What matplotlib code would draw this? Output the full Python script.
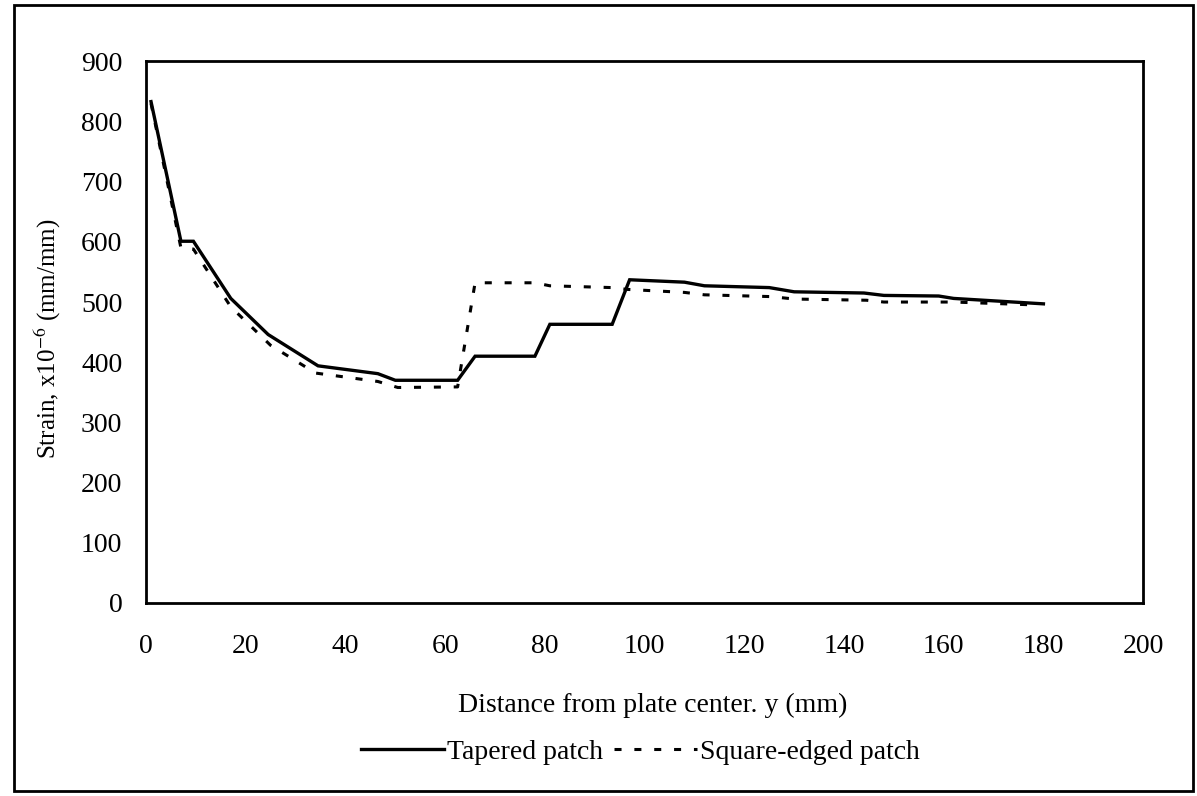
import matplotlib
matplotlib.use('Agg')
import matplotlib.pyplot as plt
from matplotlib.patches import Rectangle

# data
TAPERED_X = [1, 7, 9.5, 17, 24.5, 34.5, 46.5, 50, 62.5, 66, 78, 81, 93.5, 97, 108, 112, 125, 130, 144, 148, 159, 162, 180]
TAPERED_Y = [833, 601, 601, 506, 446, 394, 381, 370, 370, 410, 410, 463, 463, 537, 533, 527, 524, 517, 515, 511, 510, 506, 497]

SQUARE_X = [1, 7, 9.5, 17, 25, 34, 46.5, 50.5, 62.5, 66, 78, 81, 93.5, 96.5, 108, 112, 125.5, 130, 144.5, 148, 162, 179]
SQUARE_Y = [830, 590, 588, 492, 428, 382, 368, 358, 359, 532, 532, 527, 524, 521, 516, 512, 509, 505, 503, 500, 500, 495]

XTICKS = [0, 20, 40, 60, 80, 100, 120, 140, 160, 180, 200]
YTICKS = [0, 100, 200, 300, 400, 500, 600, 700, 800, 900]

plt.rcParams['font.family'] = ['Liberation Serif', 'DejaVu Serif']
plt.rcParams['mathtext.fontset'] = 'stix'

fig = plt.figure(figsize=(11.97, 7.96), dpi=100)
ax = fig.add_axes([0.122, 0.2425, 0.833, 0.6805])

l1, = ax.plot(TAPERED_X, TAPERED_Y, color='black', lw=2.4, solid_joinstyle='miter')
l2, = ax.plot(SQUARE_X, SQUARE_Y, color='black', lw=2.2, linestyle=(0, (2.3, 4.2)))

ax.set_xlim(0, 200)
ax.set_ylim(0, 900)
ax.set_xticks(XTICKS)
ax.set_yticks(YTICKS)
ax.tick_params(axis='both', length=0, labelsize=20)
ax.tick_params(axis='x', pad=22)
ax.tick_params(axis='y', pad=17)
for s in ax.spines.values():
    s.set_linewidth(2.0)

fig.text(0.545, 0.114, 'Distance from plate center. y (mm)', ha='center', va='center', fontsize=20)
fig.text(0.040, 0.575, r'Strain, x10$^{-6}$ (mm/mm)', ha='center', va='center',
         rotation=90, fontsize=18)

fig.legend([l1, l2], ['Tapered patch', 'Square-edged patch'], loc='center',
           bbox_to_anchor=(0.535, 0.055), ncol=2, frameon=False, fontsize=20,
           handlelength=3.0, handletextpad=0.1, columnspacing=0.4)

# outer chart border
fig.patches.append(Rectangle((0.012, 0.006), 0.985, 0.988, transform=fig.transFigure,
                             fill=False, edgecolor='black', lw=2.0))

fig.savefig('out.png', dpi=100)
